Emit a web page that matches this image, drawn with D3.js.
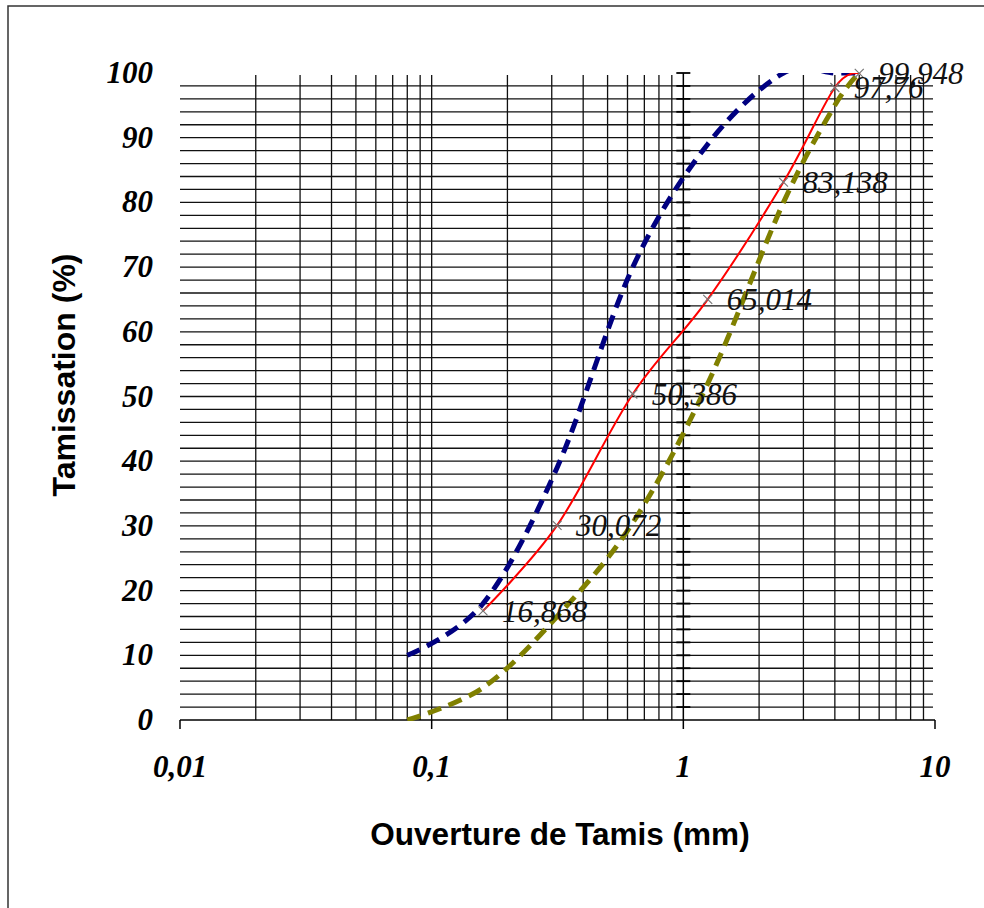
<!DOCTYPE html>
<html>
<head>
<meta charset="utf-8">
<script src="https://cdn.jsdelivr.net/npm/d3@7"></script>
<style>
  html, body { margin: 0; padding: 0; background: #fff; }
  svg { display: block; }
</style>
</head>
<body>
<script>
// ---- data ----
const sieves = [0.08, 0.16, 0.315, 0.63, 1.25, 2.5, 4, 5];
const blueVals = [10, 18, 39, 70, 89, 100, 100, 100];
const redVals = [null, 16.868, 30.072, 50.386, 65.014, 83.138, 97.76, 99.948];
const oliveVals = [0, 5, 16, 30.5, 52, 80, 95, 100];
const redLabels = ["", "16,868", "30,072", "50,386", "65,014", "83,138", "97,76", "99,948"];
const xTickValues = [0.01, 0.1, 1, 10];
const xTickLabels = ["0,01", "0,1", "1", "10"];
const yTickValues = [0, 10, 20, 30, 40, 50, 60, 70, 80, 90, 100];
const xTitle = "Ouverture de Tamis (mm)";
const yTitle = "Tamissation (%)";

// ---- layout ----
const W = 984, H = 908;
const pLeft = 180, pRight = 935, pTop = 73, pBottom = 720;

const svg = d3.select("body").append("svg").attr("width", W).attr("height", H);

svg.append("rect").attr("x", 8).attr("y", 6).attr("width", W + 20).attr("height", H + 20)
  .attr("fill", "#fff").attr("stroke", "#333").attr("stroke-width", 1.5);

const x = d3.scaleLog().domain([0.01, 10]).range([pLeft, pRight]);
const y = d3.scaleLinear().domain([0, 100]).range([pBottom, pTop]);

const serif = "'Liberation Serif', 'Times New Roman', serif";
const sans = "'Liberation Sans', Arial, sans-serif";

// grid
const g = svg.append("g");
const hGrid = d3.range(2, 100, 2);
g.selectAll("line.h").data(hGrid).join("line")
  .attr("x1", pLeft).attr("x2", pRight - 2)
  .attr("y1", d => y(d)).attr("y2", d => y(d))
  .attr("stroke", "#111").attr("stroke-width", 1.3);

const vGrid = [];
[0.01, 0.1, 1].forEach(dec => { for (let k = 2; k <= 9; k++) vGrid.push(dec * k); });
vGrid.push(0.1);
g.selectAll("line.v").data(vGrid).join("line")
  .attr("x1", d => x(d)).attr("x2", d => x(d))
  .attr("y1", y(99.7)).attr("y2", pBottom)
  .attr("stroke", "#111").attr("stroke-width", 1.3);

// y axis crossing at x = 1
const yAxisX = x(1);
g.append("line").attr("x1", yAxisX).attr("x2", yAxisX).attr("y1", y(100)).attr("y2", pBottom)
  .attr("stroke", "#000").attr("stroke-width", 1.5);
g.selectAll("line.yt").data(d3.range(2, 101, 2)).join("line")
  .attr("x1", yAxisX - 7).attr("x2", yAxisX + 7)
  .attr("y1", d => y(d)).attr("y2", d => y(d))
  .attr("stroke", "#000").attr("stroke-width", 1.8);

// x axis
g.append("line").attr("x1", pLeft).attr("x2", pRight).attr("y1", pBottom).attr("y2", pBottom)
  .attr("stroke", "#000").attr("stroke-width", 1.5);
g.selectAll("line.xt").data(xTickValues).join("line")
  .attr("x1", d => x(d)).attr("x2", d => x(d)).attr("y1", pBottom).attr("y2", pBottom + 9)
  .attr("stroke", "#000").attr("stroke-width", 1.5);

// tick labels
svg.selectAll("text.xl").data(xTickValues).join("text")
  .attr("x", d => x(d)).attr("y", 777)
  .attr("text-anchor", "middle")
  .attr("font-family", serif).attr("font-style", "italic").attr("font-weight", "bold")
  .attr("font-size", 31).attr("fill", "#000")
  .text((d, i) => xTickLabels[i]);

svg.selectAll("text.yl").data(yTickValues).join("text")
  .attr("x", 153).attr("y", d => y(d) + 10)
  .attr("text-anchor", "end")
  .attr("font-family", serif).attr("font-style", "italic").attr("font-weight", "bold")
  .attr("font-size", 31).attr("fill", "#000")
  .text(d => d);

// titles
svg.append("text").attr("x", 560).attr("y", 845).attr("text-anchor", "middle")
  .attr("font-family", sans).attr("font-weight", "bold").attr("font-size", 31.5)
  .attr("fill", "#000").text(xTitle);
svg.append("text").attr("transform", "translate(75,375) rotate(-90)").attr("text-anchor", "middle")
  .attr("font-family", sans).attr("font-weight", "bold").attr("font-size", 32)
  .attr("fill", "#000").text(yTitle);

// series
svg.append("clipPath").attr("id", "plotclip").append("rect")
  .attr("x", pLeft - 2).attr("y", pTop).attr("width", pRight - pLeft + 4).attr("height", pBottom - pTop + 1);

const line = d3.line().defined(d => d[1] != null)
  .x(d => x(d[0])).y(d => y(d[1])).curve(d3.curveCardinal.tension(0));

const series = [
  { vals: oliveVals, color: "#808000", width: 5, dash: "14 8" },
  { vals: blueVals, color: "#000080", width: 5, dash: "14 8" },
  { vals: redVals, color: "#ff0000", width: 2, dash: null }
];
const sg = svg.append("g").attr("clip-path", "url(#plotclip)");
series.forEach(s => {
  const pts = sieves.map((v, i) => [v, s.vals[i]]).filter(d => d[1] != null);
  sg.append("path").datum(pts).attr("d", line)
    .attr("fill", "none").attr("stroke", s.color).attr("stroke-width", s.width)
    .attr("stroke-dasharray", s.dash).attr("stroke-linecap", s.dash ? "butt" : "round");
});

// red markers and labels
const redPts = sieves.map((v, i) => ({ x: v, y: redVals[i], lab: redLabels[i] })).filter(d => d.y != null);
const mk = svg.append("g");
redPts.forEach(d => {
  const cx = x(d.x), cy = y(d.y), r = 4.5;
  mk.append("path").attr("d", `M${cx - r},${cy - r}L${cx + r},${cy + r}M${cx - r},${cy + r}L${cx + r},${cy - r}`)
    .attr("stroke", "#777").attr("stroke-width", 1.2).attr("fill", "none");
});
svg.selectAll("text.dl").data(redPts).join("text")
  .attr("x", d => x(d.x) + 19).attr("y", d => y(d.y) + 11)
  .attr("font-family", serif).attr("font-style", "italic")
  .attr("font-size", 31).attr("fill", "#111")
  .text(d => d.lab);
</script>
</body>
</html>
